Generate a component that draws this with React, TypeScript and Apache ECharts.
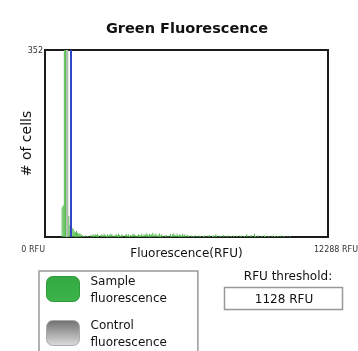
import React, { useEffect, useRef } from "react";
import * as echarts from "echarts";

// ---- data ----
const chartTitle = "Green Fluorescence";
const xAxisName = "Fluorescence(RFU)";
const yAxisName = "# of cells";
const xMin = 0;
const xMax = 12288; // RFU
const yMax = 352; // cells
const binWidth = 48; // RFU per histogram bin
const threshold = 1128; // RFU
const seriesNames = ["Sample\nfluorescence", "Control\nfluorescence"];

// sample histogram counts, starting at bin 15
const sampleStartBin = 15;
const sampleCounts = [
  56, 60, 352, 352, 352, 352, 40, 22, 24,
  17, 15, 11, 9, 12, 8, 6, 7, 5, 4,
  2, 1, 3, 0, 2, 1, 0, 4, 3, 5,
  3, 5, 4, 6, 3, 0, 4, 5, 3, 6, 4, 2, 5, 3, 4, 6, 5, 3, 2, 4,
  5, 3, 6, 4, 2, 5, 3, 0, 4, 6, 3, 5, 2, 4, 3, 5, 6, 4, 2, 3,
  5, 4, 3, 6, 2, 5, 4, 7, 5, 3, 6, 4, 5, 8, 3, 6, 5, 2, 4, 7,
  3, 5, 2, 0, 3, 4, 1, 3, 0, 6, 2, 5, 7, 4, 3, 6, 2, 5, 4, 3,
  6, 3, 5, 2, 4, 3, 2, 0, 3, 1, 2, 3, 0, 2, 1, 3, 2, 0, 1, 2,
  3, 1, 0, 2, 4, 1, 0, 2, 3, 1, 5, 2, 0, 3, 1, 2, 0, 4, 1, 0,
  2, 3, 0, 1, 2, 0, 3, 1, 0, 2, 1, 0, 3, 2, 0, 1, 2, 0, 5, 1,
  0, 2, 4, 1, 0, 6, 2, 0, 3, 1, 0, 2, 1, 0, 3, 2, 0, 1, 2, 0,
  1, 3, 0, 2, 1, 0, 2, 1, 0, 3, 0, 1, 2, 0, 0, 1, 0, 2, 0,
];

// control histogram counts, starting at bin 19
const controlStartBin = 19;
const controlCounts = [352, 352];

const FONT = "DejaVu Sans";

function toPoints(start: number, counts: number[]) {
  return counts.map((c, i) => [(start + i) * binWidth + binWidth / 2, c]);
}

export default function App() {
  const ref = useRef<HTMLDivElement>(null);
  useEffect(() => {
    const chart = echarts.init(ref.current!, null, { renderer: "svg" });
    const option: any = {
      animation: false,
      textStyle: { fontFamily: FONT },
      title: {
        text: chartTitle,
        left: 187,
        textAlign: "center",
        top: 20,
        padding: 0,
        textStyle: { fontFamily: FONT, fontSize: 14.5, fontWeight: "bold", color: "#111" },
      },
      grid: {
        left: 45,
        right: 30,
        top: 50,
        bottom: 114,
        outerBoundsMode: "none",
        containLabel: false,
        show: true,
        borderColor: "#1a1a1a",
        borderWidth: 2,
        backgroundColor: "#fff",
      },
      xAxis: {
        type: "value",
        min: xMin,
        max: xMax,
        interval: xMax,
        name: xAxisName,
        nameLocation: "middle",
        nameGap: 10,
        nameMoveOverlap: false,
        nameTextStyle: { fontFamily: FONT, fontSize: 12, color: "#111" },
        axisLine: { show: false },
        axisTick: { show: false },
        splitLine: { show: false },
        axisLabel: {
          show: true,
          showMinLabel: true,
          showMaxLabel: true,
          hideOverlap: false,
          formatter: (v: number) => `${v} RFU`,
          fontFamily: FONT,
          fontSize: 8,
          color: "#333",
          margin: 8,
          padding: [0, 0, 0, 16],
          alignMinLabel: "right",
          alignMaxLabel: "center",
        },
      },
      yAxis: {
        type: "value",
        min: 0,
        max: yMax,
        interval: yMax,
        name: yAxisName,
        nameLocation: "middle",
        nameRotate: 90,
        nameGap: 12,
        nameMoveOverlap: false,
        nameTextStyle: { fontFamily: FONT, fontSize: 14, color: "#111" },
        axisLine: { show: false },
        axisTick: { show: false },
        splitLine: { show: false },
        axisLabel: {
          showMinLabel: false,
          fontFamily: FONT,
          fontSize: 8,
          color: "#333",
          margin: 2,
        },
      },
      legend: {
        orient: "vertical",
        left: 39,
        top: 271,
        height: 90,
        padding: [1, 31, 6, 7],
        itemWidth: 33,
        itemHeight: 25,
        itemGap: 10,
        borderColor: "#999",
        borderWidth: 1.5,
        selectedMode: false,
        icon: "roundRect",
        textStyle: { fontFamily: FONT, fontSize: 12, lineHeight: 17, color: "#111", padding: [0, 0, 0, 6] },
        data: [
          {
            name: seriesNames[0],
            itemStyle: {
              color: new echarts.graphic.LinearGradient(0, 0, 0, 1, [
                { offset: 0, color: "#35a943" },
                { offset: 1, color: "#3cb44a" },
              ]),
              borderColor: "#2e9a3a",
              borderWidth: 1,
            },
          },
          {
            name: seriesNames[1],
            itemStyle: {
              color: new echarts.graphic.LinearGradient(0, 0, 0, 1, [
                { offset: 0, color: "#707070" },
                { offset: 1, color: "#dcdcdc" },
              ]),
              borderColor: "#aaa",
              borderWidth: 1,
            },
          },
        ],
      },
      series: [
        {
          name: seriesNames[0],
          type: "bar",
          data: toPoints(sampleStartBin, sampleCounts),
          barWidth: 1,
          barGap: "-100%",
          itemStyle: { color: "#52bb4c" },
          markLine: {
            silent: true,
            symbol: ["none", "none"],
            label: { show: false },
            lineStyle: { color: "#3146c4", width: 2, type: "solid" },
            data: [{ xAxis: threshold }],
          },
        },
        {
          name: seriesNames[1],
          type: "bar",
          data: toPoints(controlStartBin, controlCounts),
          barWidth: 1,
          barGap: "-100%",
          itemStyle: { color: "#bdbdbd" },
        },
      ],
      graphic: [
        {
          type: "text",
          x: 288,
          y: 276,
          style: {
            text: "RFU threshold:",
            font: `12px "${FONT}"`,
            fill: "#111",
            align: "center",
            verticalAlign: "middle",
          },
        },
        {
          type: "rect",
          shape: { x: 224.5, y: 287.5, width: 118, height: 22 },
          style: { fill: "#fff", stroke: "#999", lineWidth: 1.5 },
        },
        {
          type: "text",
          x: 284,
          y: 299,
          style: {
            text: `${threshold} RFU`,
            font: `12px "${FONT}"`,
            fill: "#111",
            align: "center",
            verticalAlign: "middle",
          },
        },
      ],
    };
    chart.setOption(option);
    return () => chart.dispose();
  }, []);
  return (
    <div
      ref={ref}
      style={{ position: "fixed", left: 0, top: 0, width: 358, height: 351 }}
    />
  );
}
